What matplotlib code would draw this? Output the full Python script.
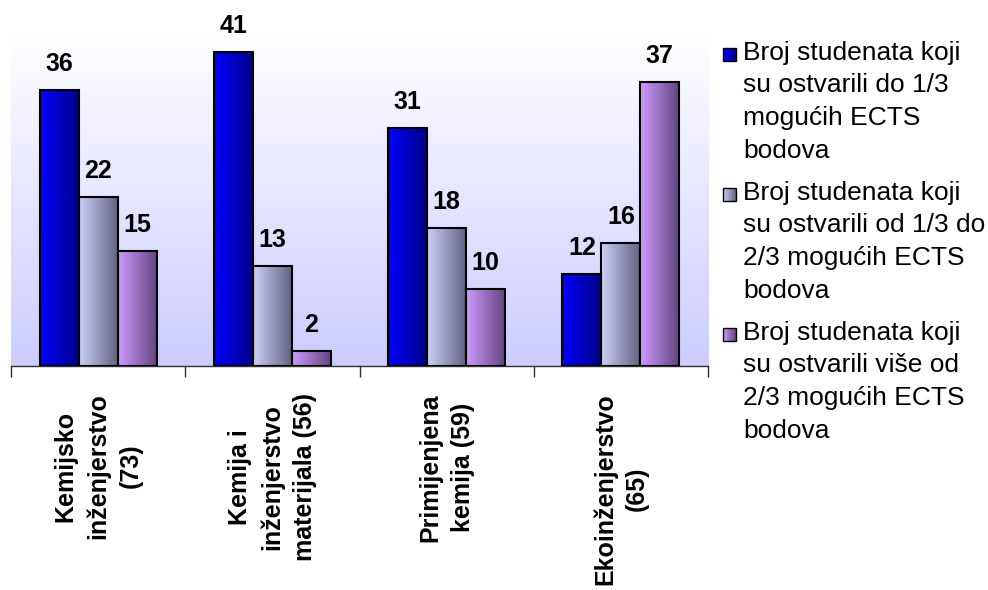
import matplotlib
matplotlib.use("Agg")
import matplotlib.pyplot as plt
import numpy as np
from matplotlib.colors import LinearSegmentedColormap
from matplotlib.patches import Rectangle

# ---- data ----
categories = ["Kemijsko\ninženjerstvo\n(73)",
              "Kemija i\ninženjerstvo\nmaterijala (56)",
              "Primijenjena\nkemija (59)",
              "Ekoinženjerstvo\n(65)"]
series_low = [36, 41, 31, 12]
series_mid = [22, 13, 18, 16]
series_high = [15, 2, 10, 37]
series_names = [
    ["Broj studenata koji", "su ostvarili do 1/3", "mogućih ECTS", "bodova"],
    ["Broj studenata koji", "su ostvarili od 1/3 do", "2/3 mogućih ECTS", "bodova"],
    ["Broj studenata koji", "su ostvarili više od", "2/3 mogućih ECTS", "bodova"],
]

plt.rcParams['font.family'] = ['Liberation Sans', 'DejaVu Sans']

W, H = 988, 590
fig = plt.figure(figsize=(W / 100, H / 100), dpi=100)
fig.patch.set_facecolor("white")

# plot area in pixel coordinates
L, R, T, B = 11, 708, 33, 366
ax = fig.add_axes([L / W, (H - B) / H, (R - L) / W, (B - T) / H])
ymax = (B - T) / ((B - 90) / 36.0)

# gradient colormaps (left -> right)
cmaps = [
    LinearSegmentedColormap.from_list("blue", [(0 / 255, 0 / 255, 255 / 255), (0 / 255, 0 / 255, 135 / 255)]),
    LinearSegmentedColormap.from_list("gray", [(205 / 255, 208 / 255, 248 / 255), (98 / 255, 100 / 255, 128 / 255)]),
    LinearSegmentedColormap.from_list("pink", [(205 / 255, 155 / 255, 255 / 255), (100 / 255, 70 / 255, 128 / 255)]),
]
grad = np.linspace(0, 1, 64).reshape(1, -1)

# background gradient (top white -> bottom lavender)
bg = LinearSegmentedColormap.from_list("bg", [(1, 1, 1), (204 / 255, 204 / 255, 255 / 255)])
ax.imshow(np.linspace(0, 1, 128).reshape(-1, 1), cmap=bg, aspect='auto',
          extent=[0, 1, 0, 1], transform=ax.transAxes, zorder=0)

bw = 39.0 / ((R - L) / 4.0)
all_series = [series_low, series_mid, series_high]
for i, vals in enumerate(all_series):
    for j, v in enumerate(vals):
        x0 = j + 0.5 + (i - 1.5) * bw
        ax.imshow(grad, cmap=cmaps[i], aspect='auto',
                  extent=[x0, x0 + bw, 0, v], zorder=2)
        ax.add_patch(Rectangle((x0, 0), bw, v, fill=False, edgecolor='black',
                               linewidth=1.5, zorder=3))
        ax.annotate(str(v), xy=(x0 + bw / 2, v), xytext=(0, 19),
                    textcoords='offset pixels', ha='center', va='baseline',
                    fontsize=18, fontweight='bold', color='black', zorder=4)

ax.set_xlim(0, 4)
ax.set_ylim(0, ymax)
for s in ['top', 'right', 'left']:
    ax.spines[s].set_visible(False)
ax.spines['bottom'].set_color('#303030')
ax.spines['bottom'].set_linewidth(1.0)
ax.set_yticks([])
ax.set_xticks([0, 1, 2, 3, 4])
ax.set_xticklabels([])
ax.tick_params(axis='x', direction='out', length=8, width=1.0, color='#303030')

for j, lab in enumerate(categories):
    ax.annotate(lab, xy=(j + 0.5, 0), xycoords='data', xytext=(0, -27),
                textcoords='offset pixels', rotation=90, ha='center', va='top',
                multialignment='center', fontsize=18, fontweight='bold',
                linespacing=1.42, annotation_clip=False)

# legend drawn in pixel coordinates on an overlay axes
lax = fig.add_axes([0, 0, 1, 1])
lax.patch.set_alpha(0)
lax.axis('off')
for i, lines in enumerate(series_names):
    base = 60 + 140 * i
    lax.imshow(grad, cmap=cmaps[i], aspect='auto',
               extent=[723, 736, base + 1, base - 12], zorder=2)
    lax.add_patch(Rectangle((723, base - 12), 13, 13, fill=False,
                            edgecolor='black', linewidth=1.0, zorder=3))
    for k, line in enumerate(lines):
        lax.text(743, base + 32.5 * k, line, fontsize=19, ha='left',
                 va='baseline', color='black')
lax.set_xlim(0, W)
lax.set_ylim(H, 0)

fig.savefig("out.png", dpi=100)
